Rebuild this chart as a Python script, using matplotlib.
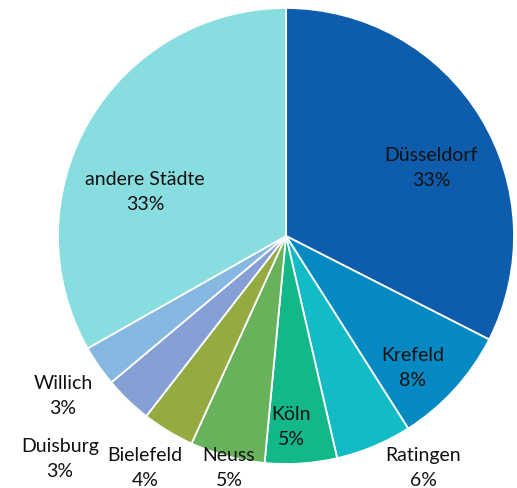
import matplotlib
matplotlib.use('Agg')
import matplotlib.pyplot as plt

plt.rcParams['font.family'] = ['Lato', 'DejaVu Sans']

cities = ['Düsseldorf', 'Krefeld', 'Ratingen', 'Köln', 'Neuss',
          'Bielefeld', 'Duisburg', 'Willich', 'andere Städte']
shares = [32.5, 8.5, 5.4, 5.1, 5.3, 3.7, 3.4, 2.9, 33.2]
pct_labels = ['33%', '8%', '6%', '5%', '5%', '4%', '3%', '3%', '33%']
colors = ['#0E5DAD', '#0589C2', '#13BBC6', '#13B88A', '#67B25B',
          '#93AB40', '#86A0D6', '#86B8E1', '#87DDE0']

# label centres in pie units (radius = 1)
label_pos = [(0.636, 0.298), (0.557, -0.579), (0.601, -1.018),
             (0.022, -0.838), (-0.25, -1.018), (-0.618, -1.018),
             (-0.991, -0.978), (-0.978, -0.702), (-0.618, 0.193)]

fig = plt.figure(figsize=(5.17, 4.88), dpi=100)
ax = fig.add_axes([58 / 517, 24 / 488, 456 / 517, 456 / 488])

ax.pie(shares, colors=colors, startangle=90, counterclock=False,
       radius=1, wedgeprops={'edgecolor': 'white', 'linewidth': 1.3})

for name, pct, (x, y) in zip(cities, pct_labels, label_pos):
    ax.text(x, y, name + '\n' + pct, ha='center', va='center',
            fontsize=14, color='#111111', linespacing=1.55, clip_on=False)

ax.set_xlim(-1, 1)
ax.set_ylim(-1, 1)
ax.set_aspect('equal')
ax.axis('off')

fig.savefig('out.png', dpi=100)
